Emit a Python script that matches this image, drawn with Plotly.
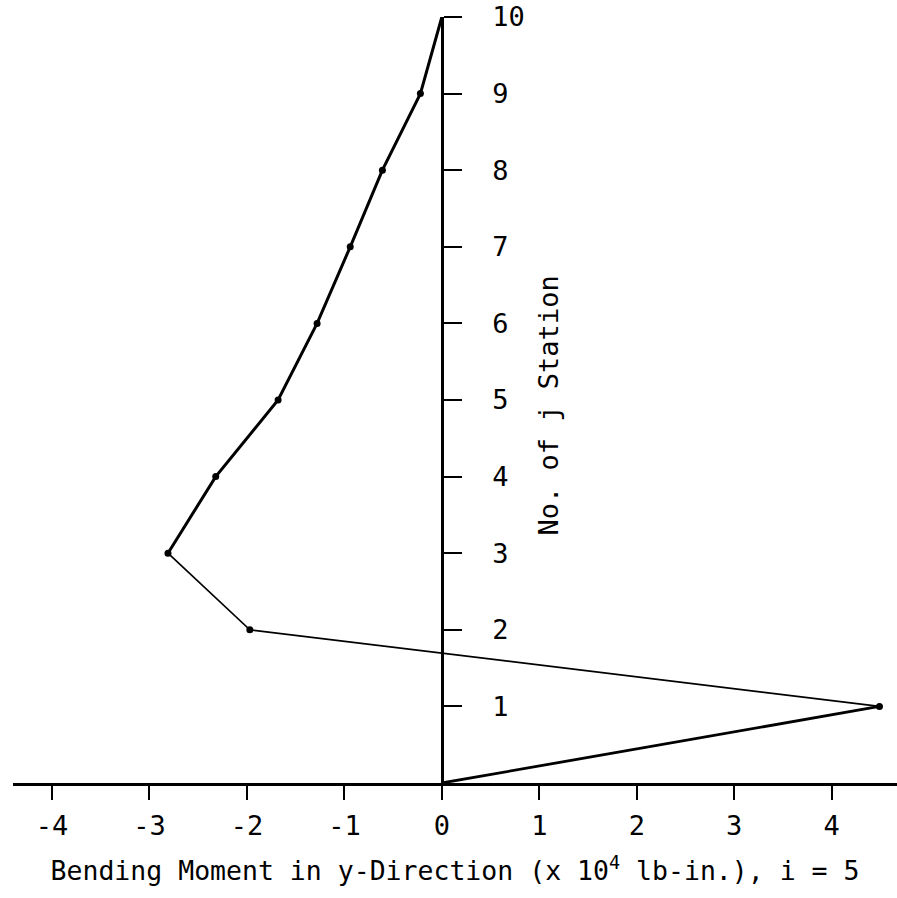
import plotly.graph_objects as go

# Station numbers j and bending moment (x 10^4 lb-in.) at i = 5
stations = [0, 1, 2, 3, 4, 5, 6, 7, 8, 9, 10]
moment = [0.0, 4.49, -1.97, -2.81, -2.32, -1.68, -1.28, -0.94, -0.61, -0.22, 0.0]

x_ticks = [-4, -3, -2, -1, 0, 1, 2, 3, 4]
y_ticks = [1, 2, 3, 4, 5, 6, 7, 8, 9, 10]

FONT = "DejaVu Sans Mono"
x_range = [-4.4, 4.67]

fig = go.Figure()

# heavier strokes for the outer segments, lighter for j = 1..3
segments = [(0, 2, 2.8), (1, 4, 1.7), (3, 11, 3.0)]
for start, stop, w in segments:
    fig.add_trace(go.Scatter(
        x=moment[start:stop], y=stations[start:stop],
        mode="lines", line=dict(color="black", width=w),
        hoverinfo="skip", showlegend=False,
    ))

# station dots
fig.add_trace(go.Scatter(
    x=moment[1:10], y=stations[1:10], mode="markers",
    marker=dict(color="black", size=7),
    showlegend=False,
))

fig.update_layout(
    width=897, height=898,
    margin=dict(l=13, r=0, t=17, b=115),
    paper_bgcolor="white", plot_bgcolor="white",
    font=dict(family=FONT, color="black", size=26),
    xaxis=dict(
        range=x_range, tickvals=x_ticks, ticktext=[str(v) for v in x_ticks],
        showgrid=False, zeroline=False,
        showline=True, linecolor="black", linewidth=2.5,
        ticks="outside", ticklen=14, tickwidth=2, tickcolor="black",
        ticklabelstandoff=3,
        tickfont=dict(family=FONT, size=27),
        title=dict(text="Bending Moment in y-Direction (x 10<sup>4</sup> lb-in.), i = 5",
                   font=dict(family=FONT, size=26.5), standoff=22),
    ),
    yaxis=dict(
        range=[0, 10], tickvals=y_ticks, ticktext=[str(v) for v in y_ticks],
        anchor="free", position=(0 - x_range[0]) / (x_range[1] - x_range[0]),
        side="right",
        showgrid=False, zeroline=False,
        showline=True, linecolor="black", linewidth=3,
        ticks="outside", ticklen=18, tickwidth=2, tickcolor="black",
        ticklabelstandoff=25,
        tickfont=dict(family=FONT, size=27),
    ),
    annotations=[dict(
        text="No. of j Station", x=1.09, y=4.93, xref="x", yref="y",
        textangle=-90, showarrow=False,
        font=dict(family=FONT, size=27, color="black"),
    )],
)

fig.write_html("out.html")
